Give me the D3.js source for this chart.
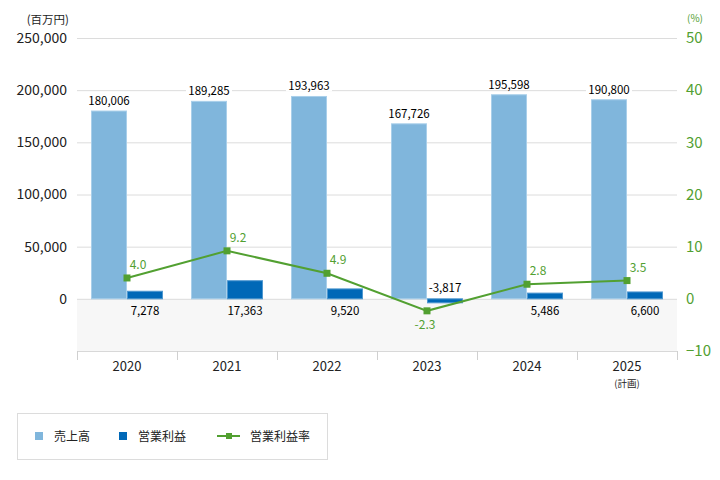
<!DOCTYPE html>
<html><head><meta charset="utf-8">
<script src="https://cdn.jsdelivr.net/npm/d3@7"></script>
<style>
body{margin:0;background:#fff;}
svg{display:block;font-family:"Noto Sans CJK JP","Noto Sans",sans-serif;}
</style></head>
<body><svg id="c" width="720" height="480"></svg>
<script>
const years = ["2020","2021","2022","2023","2024","2025"];
const sales = [180006,189285,193963,167726,195598,190800];
const profit = [7278,17363,9520,-3817,5486,6600];
const rate = [4.0,9.2,4.9,-2.3,2.8,3.5];
const leftTicks = [0,50000,100000,150000,200000,250000];
const rightTicks = [-10,0,10,20,30,40,50];
const seriesNames = ["売上高","営業利益","営業利益率"];

const cSales="#80b6dc", cProfit="#0068b7", cRate="#52a031";
const svg = d3.select("#c");
const L=77, R=677, T=38, B=351;
const x = d3.scaleBand().domain(years).range([L,R]);
const y = d3.scaleLinear().domain([-50000,250000]).range([B,T]);
const y2 = d3.scaleLinear().domain([-10,50]).range([B,T]);
const bw = 36;
const fmt = d3.format(",");

// negative background band
svg.append("rect").attr("x",L).attr("y",y(0)).attr("width",R-L).attr("height",B-y(0)).attr("fill","#f7f7f7");

// grid lines
svg.append("g").selectAll("line").data(leftTicks).join("line")
  .attr("x1",L).attr("x2",R).attr("y1",d=>y(d)+0.5).attr("y2",d=>y(d)+0.5)
  .attr("stroke","#dcdcdc").attr("stroke-width",1);

// left axis
const ga = svg.append("g").attr("transform",`translate(${L-10},0)`)
  .call(d3.axisLeft(y).tickValues(leftTicks).tickFormat(fmt).tickSize(0).tickPadding(0));
ga.select(".domain").remove();
ga.selectAll("text").attr("font-size",14).attr("fill","#222").attr("font-family","'Noto Sans CJK JP',sans-serif");

// right axis
const gr = svg.append("g").attr("transform",`translate(${R+9},0)`)
  .call(d3.axisRight(y2).tickValues(rightTicks).tickSize(0).tickPadding(0));
gr.select(".domain").remove();
gr.selectAll("text").attr("font-size",15).attr("fill",cRate).attr("font-family","'Noto Sans CJK JP',sans-serif");

// units
svg.append("text").attr("x",69).attr("y",24).attr("text-anchor","end").attr("font-size",11.5).attr("fill","#222").text("(百万円)");
svg.append("text").attr("x",687).attr("y",22).attr("font-size",10).attr("fill",cRate).text("(%)");

// bottom axis line + ticks
svg.append("line").attr("x1",L).attr("x2",R).attr("y1",B+0.5).attr("y2",B+0.5).attr("stroke","#d8d8d8");
svg.append("g").selectAll("line").data(years.concat(["end"])).join("line")
  .attr("x1",(d,i)=>L+i*x.bandwidth()+0.5).attr("x2",(d,i)=>L+i*x.bandwidth()+0.5)
  .attr("y1",B).attr("y2",B+9).attr("stroke","#d0d0d0");
const gx = svg.append("g").attr("transform",`translate(0,${B})`)
  .call(d3.axisBottom(x).tickSize(0).tickPadding(0));
gx.select(".domain").remove();
gx.selectAll("text").attr("y",11).attr("font-size",13).attr("fill","#222").attr("font-family","'Noto Sans CJK JP',sans-serif");
svg.append("text").attr("x",x("2025")+x.bandwidth()/2).attr("y",387).attr("text-anchor","middle")
  .attr("font-size",9.5).attr("fill","#222").text("(計画)");

const cx = d=>x(d)+x.bandwidth()/2;

// sales bars
svg.append("g").selectAll("rect").data(years).join("rect")
  .attr("x",d=>cx(d)-bw+0.5).attr("width",bw-1)
  .attr("y",(d,i)=>y(sales[i])).attr("height",(d,i)=>y(0)-y(sales[i]))
  .attr("fill",cSales).attr("stroke","#a9cfea").attr("stroke-width",1);
// profit bars
svg.append("g").selectAll("rect").data(years).join("rect")
  .attr("x",d=>cx(d)+0.5).attr("width",bw-1)
  .attr("y",(d,i)=>y(Math.max(0,profit[i]))).attr("height",(d,i)=>Math.abs(y(0)-y(profit[i])))
  .attr("fill",cProfit).attr("stroke","#4f98d0").attr("stroke-width",1);

// sales labels (white bg)
const sl = svg.append("g").selectAll("g").data(years).join("g");
sl.append("rect").attr("x",d=>cx(d)-bw/2-23).attr("y",(d,i)=>y(sales[i])-19).attr("width",46).attr("height",14).attr("fill","#fff");
sl.append("text").attr("x",d=>cx(d)-bw/2).attr("y",(d,i)=>y(sales[i])-6).attr("text-anchor","middle")
  .attr("font-size",11.5).attr("fill","#000").text((d,i)=>fmt(sales[i]));

// profit labels
svg.append("g").selectAll("text").data(years).join("text")
  .attr("x",d=>cx(d)+bw/2).attr("y",(d,i)=>profit[i]>=0? y(0)+16 : y(profit[i])-11)
  .attr("text-anchor","middle").attr("font-size",11.5).attr("fill","#000")
  .text((d,i)=>fmt(profit[i]).replace("−","-"));

// rate line
const line = d3.line().x((d,i)=>cx(years[i])).y(d=>y2(d));
svg.append("path").datum(rate).attr("d",line).attr("fill","none").attr("stroke",cRate).attr("stroke-width",2);
svg.append("g").selectAll("rect").data(rate).join("rect")
  .attr("x",(d,i)=>cx(years[i])-3.5).attr("y",d=>y2(d)-3.5).attr("width",7).attr("height",7).attr("fill",cRate);
svg.append("g").selectAll("text").data(rate).join("text")
  .attr("x",(d,i)=>d>=0? cx(years[i])+11 : cx(years[i])-2)
  .attr("y",d=>d>=0? y2(d)-9 : y2(d)+18)
  .attr("text-anchor","middle").attr("font-size",12).attr("fill",cRate)
  .text(d=>d3.format(".1f")(d).replace("−","-"));

// legend
const lg = svg.append("g");
lg.append("rect").attr("x",17.5).attr("y",413.5).attr("width",310).attr("height",46).attr("fill","#fff").attr("stroke","#dcdcdc");
lg.append("rect").attr("x",35).attr("y",432).attr("width",8).attr("height",8).attr("fill",cSales);
lg.append("text").attr("x",54).attr("y",441).attr("font-size",12).attr("fill","#222").text(seriesNames[0]);
lg.append("rect").attr("x",119).attr("y",432).attr("width",8).attr("height",8).attr("fill",cProfit);
lg.append("text").attr("x",138).attr("y",441).attr("font-size",12).attr("fill","#222").text(seriesNames[1]);
lg.append("line").attr("x1",217).attr("x2",240).attr("y1",436).attr("y2",436).attr("stroke",cRate).attr("stroke-width",2);
lg.append("rect").attr("x",226).attr("y",433).attr("width",6).attr("height",6).attr("fill",cRate);
lg.append("text").attr("x",250).attr("y",441).attr("font-size",12).attr("fill","#222").text(seriesNames[2]);
</script></body></html>
